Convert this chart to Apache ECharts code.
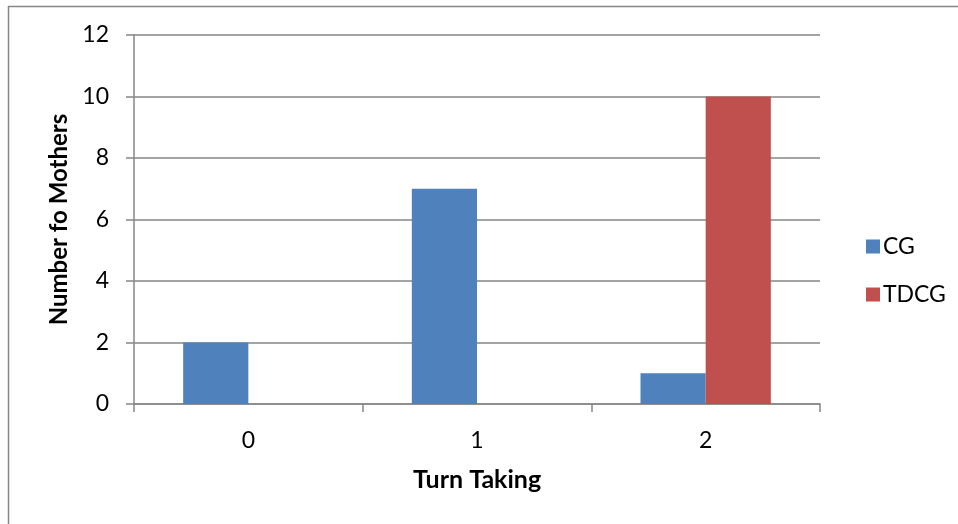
<!DOCTYPE html>
<html><head><meta charset="utf-8">
<script src="https://cdn.jsdelivr.net/npm/echarts@6/dist/echarts.min.js"></script>
<style>html,body{margin:0;padding:0;background:#fff}#c{width:958px;height:524px}</style>
</head><body><div id="c"></div>
<script>
const categories = ['0', '1', '2'];
const seriesNames = ['CG', 'TDCG'];
const cgValues = [2, 7, 1];
const tdcgValues = [0, 0, 10];
const yTicks = {min: 0, max: 12, interval: 2};
const font = 'Lato, "Open Sans", sans-serif';
const chart = echarts.init(document.getElementById('c'));
chart.setOption({
  animation: false,
  backgroundColor: '#fff',
  grid: {left: 134, top: 35, right: 138, bottom: 120},
  graphic: [
    {type: 'line', shape: {x1: 8, y1: 6.5, x2: 958, y2: 6.5}, style: {stroke: '#868686', lineWidth: 1.5}},
    {type: 'line', shape: {x1: 8.5, y1: 6, x2: 8.5, y2: 524}, style: {stroke: '#868686', lineWidth: 1.5}}
  ],
  legend: {
    orient: 'vertical', left: 861, top: 230, itemWidth: 14, itemHeight: 14, itemGap: 25,
    icon: 'rect', data: seriesNames,
    textStyle: {fontFamily: font, fontSize: 23, color: '#000', padding: [0, 0, 0, -2]}
  },
  xAxis: {
    type: 'category', data: categories,
    name: 'Turn Taking', nameLocation: 'middle', nameGap: 63,
    nameTextStyle: {fontFamily: font, fontSize: 25, fontWeight: 'bold', color: '#000'},
    axisLine: {lineStyle: {color: '#868686', width: 1.5}},
    axisTick: {show: true, length: 8, lineStyle: {color: '#868686', width: 1.5}},
    axisLabel: {fontFamily: font, fontSize: 23, color: '#000', margin: 25}
  },
  yAxis: {
    type: 'value', min: yTicks.min, max: yTicks.max, interval: yTicks.interval,
    name: 'Number fo Mothers', nameLocation: 'middle', nameGap: 60,
    nameTextStyle: {fontFamily: font, fontSize: 24, fontWeight: 'bold', color: '#000'},
    axisLine: {show: true, lineStyle: {color: '#868686', width: 1.5}},
    axisTick: {show: true, length: 8, lineStyle: {color: '#868686', width: 1.5}},
    axisLabel: {fontFamily: font, fontSize: 23, color: '#000', margin: 25},
    splitLine: {lineStyle: {color: '#868686', width: 1.5}}
  },
  series: [
    {name: seriesNames[0], type: 'bar', data: cgValues, barGap: '0%', barCategoryGap: '43%', itemStyle: {color: '#4F81BD'}},
    {name: seriesNames[1], type: 'bar', data: tdcgValues, barGap: '0%', barCategoryGap: '43%', itemStyle: {color: '#C0504D'}}
  ]
});
</script></body></html>
